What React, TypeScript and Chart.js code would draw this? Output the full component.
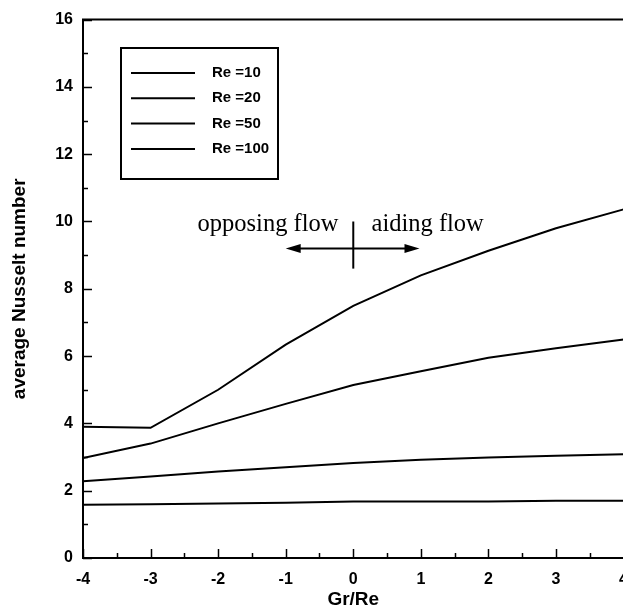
import React, { useEffect, useRef } from "react";
import { Chart, registerables } from "chart.js";

Chart.register(...registerables);

// ---- data ----
const grRe = [-4, -3, -2, -1, 0, 1, 2, 3, 4];
const nuRe10 = [1.58, 1.6, 1.62, 1.64, 1.68, 1.68, 1.68, 1.7, 1.7];
const nuRe20 = [2.28, 2.42, 2.57, 2.7, 2.82, 2.92, 2.99, 3.04, 3.08];
const nuRe50 = [2.97, 3.4, 4.0, 4.58, 5.14, 5.55, 5.95, 6.23, 6.49];
const nuRe100 = [3.9, 3.87, 5.0, 6.34, 7.49, 8.4, 9.13, 9.8, 10.36];
const seriesLabels = ["Re =10", "Re =20", "Re =50", "Re =100"];
const seriesValues = [nuRe10, nuRe20, nuRe50, nuRe100];
const xTickValues = [-4, -3, -2, -1, 0, 1, 2, 3, 4];
const xMinorValues = [-3.5, -2.5, -1.5, -0.5, 0.5, 1.5, 2.5, 3.5];
const yTickValues = [0, 2, 4, 6, 8, 10, 12, 14, 16];
const yMinorValues = [1, 3, 5, 7, 9, 11, 13, 15];
const xTitle = "Gr/Re";
const yTitle = "average Nusselt number";
const leftNote = "opposing flow";
const rightNote = "aiding flow";
// annotation anchor values (data units)
const noteArrowFrom = -1;
const noteArrowTo = 0.98;
const noteArrowY = 9.2;
const noteBarX = 0;
const noteBarTop = 10.0;
const noteBarBottom = 8.6;
const noteTextY = 9.72;
const leftNoteEndX = -0.22;
const rightNoteStartX = 0.27;

const SANS = "'Liberation Sans', Arial, Helvetica, sans-serif";
const SERIF = "'Liberation Serif', 'Times New Roman', Times, serif";

const decorPlugin = {
  id: "decor",
  afterDraw(chart: any) {
    const ctx = chart.ctx as CanvasRenderingContext2D;
    const xs = chart.scales.x;
    const ys = chart.scales.y;
    const area = chart.chartArea;
    ctx.save();
    ctx.strokeStyle = "#000";
    ctx.fillStyle = "#000";

    // top frame line
    ctx.lineWidth = 2;
    ctx.beginPath();
    ctx.moveTo(area.left - 1, area.top);
    ctx.lineTo(chart.width, area.top);
    ctx.stroke();

    // inward ticks
    ctx.lineWidth = 1.5;
    const drawY = (v: number, len: number) => {
      const p = Math.round(ys.getPixelForValue(v)) + 0.5;
      ctx.beginPath();
      ctx.moveTo(area.left, p);
      ctx.lineTo(area.left + len, p);
      ctx.stroke();
    };
    const drawX = (v: number, len: number) => {
      const p = Math.round(xs.getPixelForValue(v)) + 0.5;
      ctx.beginPath();
      ctx.moveTo(p, area.bottom);
      ctx.lineTo(p, area.bottom - len);
      ctx.stroke();
    };
    yTickValues.forEach((v) => drawY(v, 9));
    yMinorValues.forEach((v) => drawY(v, 5));
    xTickValues.forEach((v) => drawX(v, 9));
    xMinorValues.forEach((v) => drawX(v, 5));

    // legend
    ctx.lineWidth = 2;
    ctx.strokeRect(121, 48, 157, 131);
    ctx.font = `bold 15px ${SANS}`;
    ctx.textAlign = "left";
    ctx.textBaseline = "middle";
    seriesLabels.forEach((lab, i) => {
      const y = 73 + i * 25.3;
      ctx.beginPath();
      ctx.moveTo(131, y);
      ctx.lineTo(195, y);
      ctx.stroke();
      ctx.fillText(lab, 212, y);
    });

    // annotation
    const ay = ys.getPixelForValue(noteArrowY);
    const ax1 = xs.getPixelForValue(noteArrowFrom);
    const ax2 = xs.getPixelForValue(noteArrowTo);
    ctx.lineWidth = 2;
    ctx.beginPath();
    ctx.moveTo(ax1 + 8, ay);
    ctx.lineTo(ax2 - 8, ay);
    ctx.stroke();
    const head = (x: number, dir: number) => {
      ctx.beginPath();
      ctx.moveTo(x, ay);
      ctx.lineTo(x - dir * 15, ay - 4.5);
      ctx.lineTo(x - dir * 15, ay + 4.5);
      ctx.closePath();
      ctx.fill();
    };
    head(ax1, -1);
    head(ax2, 1);
    const bx = xs.getPixelForValue(noteBarX);
    ctx.beginPath();
    ctx.moveTo(bx, ys.getPixelForValue(noteBarTop));
    ctx.lineTo(bx, ys.getPixelForValue(noteBarBottom));
    ctx.stroke();

    ctx.font = `24.5px ${SERIF}`;
    ctx.textBaseline = "alphabetic";
    const ty = ys.getPixelForValue(noteTextY);
    ctx.textAlign = "right";
    ctx.fillText(leftNote, xs.getPixelForValue(leftNoteEndX), ty);
    ctx.textAlign = "left";
    ctx.fillText(rightNote, xs.getPixelForValue(rightNoteStartX), ty);

    ctx.restore();
  },
};

export default function App() {
  const ref = useRef<HTMLCanvasElement | null>(null);

  useEffect(() => {
    if (!ref.current) return;
    const chart = new Chart(ref.current, {
      type: "line",
      data: {
        datasets: seriesValues.map((vals, i) => ({
          label: seriesLabels[i],
          data: grRe.map((x, j) => ({ x, y: vals[j] })),
          borderColor: "#000",
          backgroundColor: "#000",
          borderWidth: 2,
          pointRadius: 0,
          tension: 0,
          fill: false,
        })),
      },
      options: {
        animation: false,
        responsive: false,
        devicePixelRatio: 1,
        layout: { padding: { top: 13, right: 12, left: 0, bottom: 0 } },
        plugins: {
          legend: { display: false },
          tooltip: { enabled: false },
        },
        scales: {
          x: {
            type: "linear",
            min: -4,
            max: 4,
            afterBuildTicks: (s: any) => {
              s.ticks = xTickValues.map((v) => ({ value: v }));
            },
            afterFit: (s: any) => {
              s.height = 53;
            },
            grid: { display: false, drawTicks: false },
            border: { display: true, color: "#000", width: 2 },
            ticks: {
              color: "#000",
              padding: 12,
              autoSkip: false,
              maxRotation: 0,
              font: { family: SANS, weight: "bold", size: 16 },
            },
            title: {
              display: true,
              text: xTitle,
              color: "#000",
              padding: { top: 3, bottom: 0 },
              font: { family: SANS, weight: "bold", size: 19 },
            },
          },
          y: {
            type: "linear",
            min: 0,
            max: 16,
            afterBuildTicks: (s: any) => {
              s.ticks = yTickValues.map((v) => ({ value: v }));
            },
            afterFit: (s: any) => {
              s.width = 83;
            },
            grid: { display: false, drawTicks: false },
            border: { display: true, color: "#000", width: 2 },
            ticks: {
              color: "#000",
              padding: 10,
              autoSkip: false,
              font: { family: SANS, weight: "bold", size: 16 },
            },
            title: {
              display: true,
              text: yTitle,
              color: "#000",
              padding: { top: 8, bottom: 0 },
              font: { family: SANS, weight: "bold", size: 19 },
            },
          },
        },
      } as any,
      plugins: [decorPlugin],
    });
    return () => chart.destroy();
  }, []);

  return (
    <div
      style={{
        position: "fixed",
        left: 0,
        top: 0,
        width: 623,
        height: 611,
        overflow: "hidden",
        background: "#fff",
      }}
    >
      <canvas ref={ref} width={640} height={611} style={{ display: "block" }} />
    </div>
  );
}
